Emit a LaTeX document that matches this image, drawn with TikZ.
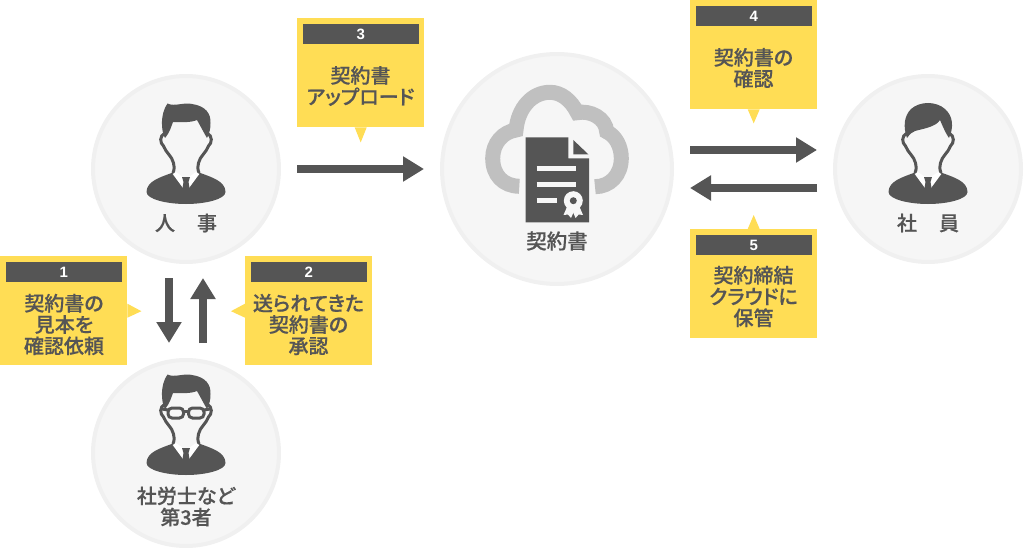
\documentclass[tikz,border=0pt]{standalone}
\usepackage{fontspec}
\newfontfamily\jpfont[RawFeature=+palt,FakeBold=0.5]{Noto Sans CJK JP Medium}
\newfontfamily\numfont{Liberation Sans}
\usetikzlibrary{arrows.meta,calc}
\definecolor{darkgr}{HTML}{555555}
\definecolor{calloutfill}{HTML}{FFDD55}
\definecolor{roundfill}{HTML}{F6F6F6}
\definecolor{roundedge}{HTML}{F0F0F0}
\definecolor{cloudgr}{HTML}{C0C0C0}
\tikzset{
    roundbg/.style={circle,draw=roundedge,fill=roundfill,line width=4pt,inner sep=0pt,minimum size=#1},
    callbox/.style={fill=calloutfill,anchor=north west,minimum width=127pt,minimum height=109pt,inner sep=0pt},
    numbar/.style={fill=darkgr,anchor=north,minimum width=116pt,minimum height=20pt,inner sep=0pt,text=white,font=\numfont\bfseries\fontsize{15}{15}\selectfont},
    calltext/.style={align=center,inner sep=0pt,text=darkgr,font=\jpfont\fontsize{20}{21.3}\selectfont},
    blockarrow/.style={line width=8.5pt,draw=darkgr,-{Triangle[length=21pt,width=24pt]}},
    pics/personbase/.style={code={
        \fill[darkgr] (-39.5,23) .. controls (-39.5,12) and (-25,8) .. (-13,3.5) -- (0,10) -- (13,3.5)
            .. controls (25,8) and (39.5,12) .. (39.5,23) .. controls (39.5,30) and (20,35) .. (0,35)
            .. controls (-20,35) and (-39.5,30) .. (-39.5,23) -- cycle;
        \draw[darkgr,line width=3pt] (-21,-36) .. controls (-27,-33) and (-26,-26) .. (-22.5,-23)
            .. controls (-20,-16) and (-14,-13) .. (-12.5,-6) .. controls (-11.5,-3) and (-11.5,0) .. (-13,4);
        \draw[darkgr,line width=3pt] (21,-36) .. controls (27,-33) and (26,-26) .. (22.5,-23)
            .. controls (20,-16) and (14,-13) .. (12.5,-6) .. controls (11.5,-3) and (11.5,0) .. (13,4);
        \fill[white] (-13.3,5) -- (-10,3) -- (-1.5,9) -- (-3,19) -- cycle;
        \fill[white] (13.3,5) -- (10,3) -- (1.5,9) -- (3,19) -- cycle;
        \fill[darkgr] (-4,8) -- (4,8) -- (2.5,13) -- (3.5,19) -- (0,23) -- (-3.5,19) -- (-2.5,13) -- cycle;
    }},
    pics/hairswept/.style={code={
        \fill[darkgr] (-18.5,-65.5) .. controls (-12,-62) and (-2,-67) .. (6,-65)
            .. controls (20,-63) and (25,-55) .. (24.5,-46) .. controls (24.5,-40) and (23.5,-36) .. (21,-31)
            .. controls (18,-36) and (15,-42) .. (11,-49) .. controls (4,-46) and (-6,-47) .. (-13,-47)
            .. controls (-15,-42) and (-16,-37) .. (-21,-31) .. controls (-25,-38) and (-26,-55) .. (-18.5,-65.5) -- cycle;
    }},
    pics/hairround/.style={code={
        \fill[darkgr] (-21,-31) .. controls (-25,-42) and (-24,-53) .. (-17,-60)
            .. controls (-8,-68) and (8,-68) .. (17,-60) .. controls (25,-53) and (26,-42) .. (21,-31)
            .. controls (18,-35) and (15,-42) .. (12,-49) .. controls (8,-42) and (-6,-40) .. (-13,-38)
            .. controls (-16,-37) and (-18,-35) .. (-21,-31) -- cycle;
    }},
    pics/glasses/.style={code={
        \draw[darkgr,line width=3pt,rounded corners=4pt] (-18,-32) rectangle (-2.5,-22);
        \draw[darkgr,line width=3pt,rounded corners=4pt] (2.5,-32) rectangle (18,-22);
        \draw[darkgr,line width=3pt] (-2.5,-29) -- (2.5,-29);
        \draw[darkgr,line width=3pt] (-18,-30) -- (-24,-31);
        \draw[darkgr,line width=3pt] (18,-30) -- (24,-31);
    }},
}
\begin{document}
\begin{tikzpicture}[x=1pt,y=-1pt]
    \useasboundingbox (0,0) rectangle (1024,548);
    % circles
    \node[roundbg=186pt] (hr) at (186,169) {};
    \node[roundbg=186pt] (third) at (186,453) {};
    \node[roundbg=230pt] (doc) at (557,169) {};
    \node[roundbg=186pt] (staff) at (928,169) {};
    % people
    \pic at (186,169) {personbase};
    \pic at (186,169) {hairswept};
    \pic at (186,440) {personbase};
    \pic at (186,440) {hairswept};
    \pic at (186,440) {glasses};
    \pic at (928,169) {personbase};
    \pic at (928,169) {hairround};
    \node[calltext] (hrlabel) at (186,223) {人\hspace{22pt}事};
    \node[calltext] (staffabel) at (928,223) {社\hspace{22pt}員};
    \node[calltext] (thirdlabel) at (186,506.5) {社労士など\\第3者};
    \node[calltext,font=\jpfont\fontsize{20.5}{22}\selectfont] (doclabel) at (557,241) {契約書};
    % cloud
    \draw[cloudgr,line width=15pt] (519.3,186.3) .. controls (503,186) and (492.7,175) .. (492.7,158.3)
        .. controls (492.7,143) and (503,132) .. (516,130) .. controls (518,108) and (532,92.3) .. (550,92.3)
        .. controls (561,92.3) and (571,100) .. (577.3,112.7) .. controls (590,110) and (606,118) .. (606.7,131.7)
        .. controls (616,136) and (621.3,147) .. (621.3,158.3) .. controls (621.3,175) and (610,186.7) .. (595,186.7);
    % document
    \fill[darkgr] (525.7,137.3) -- (568.3,137.3) -- (568.3,158.3) -- (589,158.3) -- (589,222.3) -- (525.7,222.3) -- cycle;
    \fill[darkgr] (573.3,140) -- (588.3,154.3) -- (573.3,154.3) -- cycle;
    \foreach \y/\e in {169/575.7,184.3/575.7,200/557.3}{
        \draw[roundfill,line width=5pt] (536.7,\y) -- (\e,\y);
    }
    \fill[roundfill] (567,207) -- (563.5,215) -- (568,214.5) -- (571,218) -- (575,209) -- cycle;
    \fill[roundfill] (579.6,207) -- (583,215) -- (578.6,214.5) -- (575.6,218) -- (571.6,209) -- cycle;
    \fill[roundfill] (573.3,200.7) circle (9.5);
    \fill[darkgr] (573.3,200.7) circle (3.5);
    % callouts
    \foreach \i/\x/\y in {1/0/256,2/245/256,3/297/18,4/690/0,5/690/229}{
        \node[callbox] (box\i) at (\x,\y) {};
        \node[numbar] (bar\i) at ($(box\i.north)+(0,6)$) {\i};
    }
    \fill[calloutfill] (box1.east) ++(0,-7) -- ++(14,7.5) -- ++(-14,6.5) -- cycle;
    \fill[calloutfill] (box2.west) ++(0,-7) -- ++(-14,7.5) -- ++(14,6.5) -- cycle;
    \fill[calloutfill] (box3.south) ++(-6,0) -- ++(6,15) -- ++(6,-15) -- cycle;
    \fill[calloutfill] (box4.south) ++(-6,0) -- ++(6,14) -- ++(6,-14) -- cycle;
    \fill[calloutfill] (box5.north) ++(-6,0) -- ++(6,-14) -- ++(6,14) -- cycle;
    \node[calltext] (text1) at (64,324.5) {契約書の\\見本を\\確認依頼};
    \node[calltext] (text2) at (308.5,324.5) {送られてきた\\契約書の\\承認};
    \node[calltext] (text3) at (360.5,86) {契約書\\アップロード};
    \node[calltext] (text4) at (753.5,68) {契約書の\\確認};
    \node[calltext] (text5) at (753.5,296.5) {契約締結\\クラウドに\\保管};
    % arrows
    \coordinate (a1s) at (297,169);
    \coordinate (a1e) at (424,169);
    \coordinate (a2s) at (690,150);
    \coordinate (a2e) at (817,150);
    \coordinate (a3s) at (817,188);
    \coordinate (a3e) at (690,188);
    \coordinate (a4s) at (169,278);
    \coordinate (a4e) at (169,343);
    \coordinate (a5s) at (203,343);
    \coordinate (a5e) at (203,278);
    \draw[blockarrow] (a1s) -- (a1e);
    \draw[blockarrow] (a2s) -- (a2e);
    \draw[blockarrow] (a3s) -- (a3e);
    \draw[blockarrow] (a4s) -- (a4e);
    \draw[blockarrow] (a5s) -- (a5e);
\end{tikzpicture}
\end{document}
